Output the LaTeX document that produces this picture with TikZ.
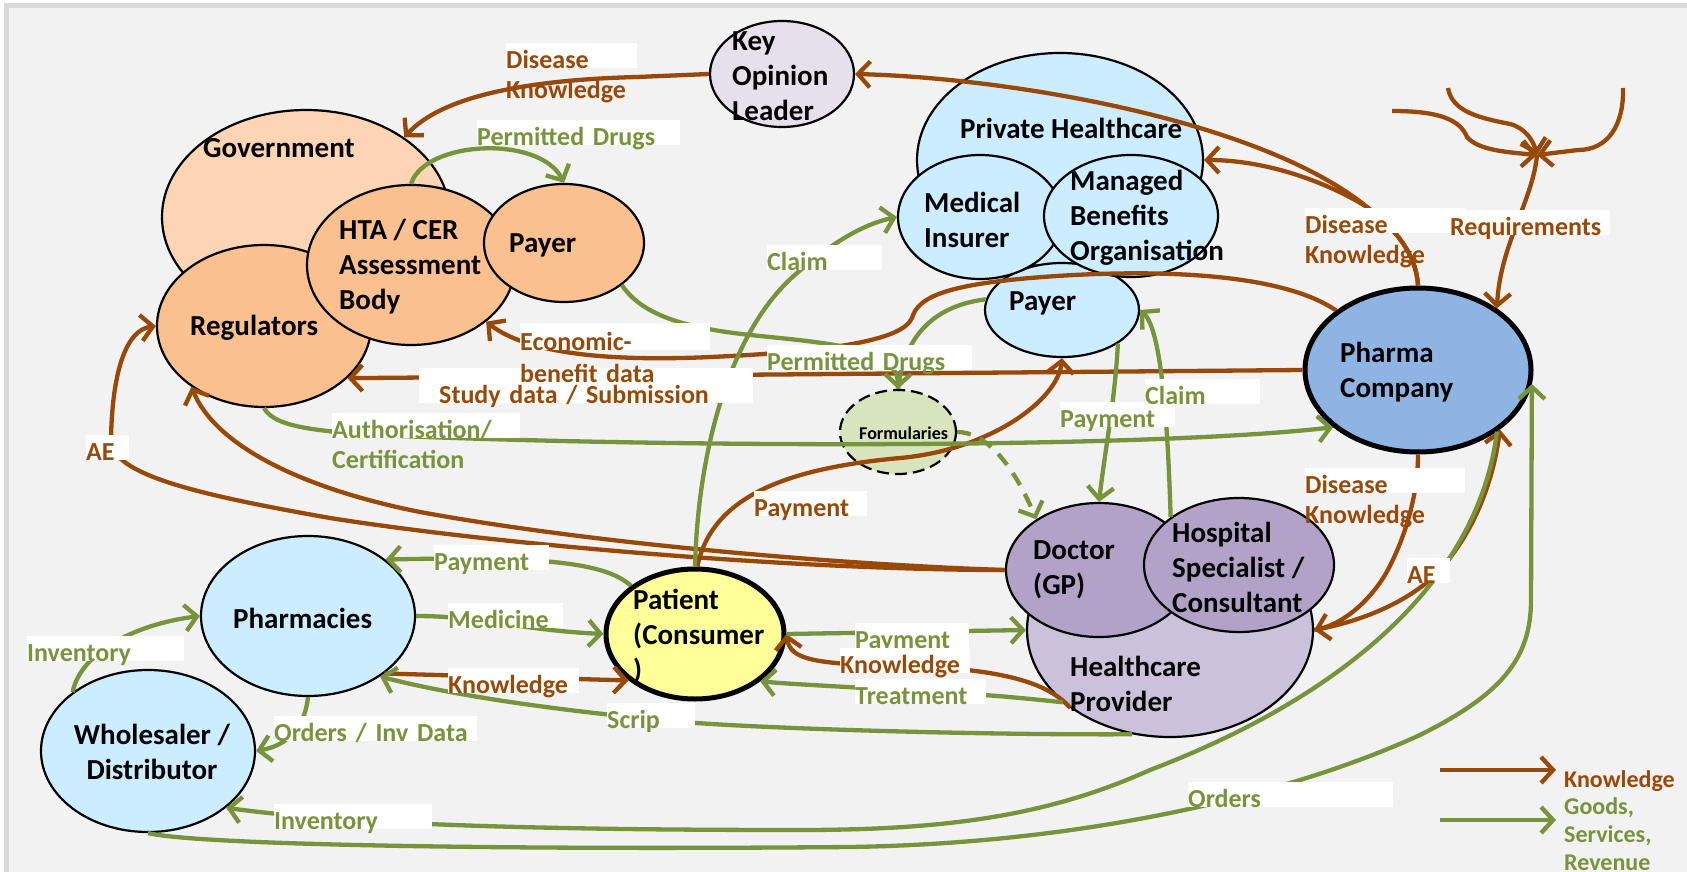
\documentclass[tikz,border=0pt]{standalone}
\usepackage{fontspec}
\setmainfont{Carlito}
\usepackage{tikz}
\usetikzlibrary{shapes,arrows.meta,positioning,calc}

\definecolor{know}{HTML}{984807}
\definecolor{goods}{HTML}{77933C}
\definecolor{paper}{HTML}{F2F2F2}
\definecolor{framegray}{HTML}{D9D9D9}
\definecolor{govfill}{HTML}{FCD5B5}
\definecolor{orgfill}{HTML}{FAC090}
\definecolor{kolfill}{HTML}{E6E0EC}
\definecolor{skyfill}{HTML}{CCECFF}
\definecolor{pharmafill}{HTML}{8EB4E3}
\definecolor{patfill}{HTML}{FFFF99}
\definecolor{formfill}{HTML}{D7E4BD}
\definecolor{docfill}{HTML}{B3A2C7}
\definecolor{hcfill}{HTML}{CCC1DA}

\begin{document}
\begin{tikzpicture}[x=1pt, y=-1pt, >={Straight Barb[length=12pt,width=26pt]}]
\tikzstyle{blob}=[ellipse, draw=black, line width=2.2pt, inner sep=0pt]
\tikzstyle{txt}=[font=\fontsize{29}{35}\selectfont\bfseries, align=left, anchor=west, inner sep=0pt]
\tikzstyle{kline}=[draw=know, line width=4.3pt]
\tikzstyle{gline}=[draw=goods, line width=4.3pt]
\tikzstyle{lbl}=[fill=white, anchor=north west, align=left, inner sep=0pt, text height=25pt, text depth=0pt, font=\fontsize{26}{30}\selectfont\bfseries]
\tikzstyle{klbl}=[lbl, text=know]
\tikzstyle{glbl}=[lbl, text=goods]
\tikzstyle{keytext}=[font=\fontsize{24}{28}\selectfont\bfseries, inner sep=0pt, align=left, text width=120pt]

\useasboundingbox (0,0) rectangle (1687,872);
\fill[white] (0,0) rectangle (1687,872);
\draw[draw=framegray, line width=5pt, fill=paper] (6,6) rectangle (1720,900);

% actors
\node[blob, fill=kolfill, minimum width=144pt, minimum height=106pt] (kol) at (782,74) {};
\node[blob, fill=govfill, minimum width=288pt, minimum height=214pt] (gov) at (306,217) {};
\node[blob, fill=orgfill, minimum width=214pt, minimum height=162pt] (reg) at (264,326) {};
\node[blob, fill=orgfill, minimum width=208pt, minimum height=160pt] (hta) at (411,265) {};
\node[blob, fill=orgfill, minimum width=160pt, minimum height=118pt] (gpay) at (564,243) {};
\node[blob, fill=skyfill, minimum width=286pt, minimum height=214pt] (phc) at (1060,160) {};
\node[blob, fill=skyfill, minimum width=154pt, minimum height=94pt] (ppay) at (1062,310) {};
\node[blob, fill=skyfill, minimum width=164pt, minimum height=124pt] (mins) at (980,217) {};
\node[blob, fill=skyfill, minimum width=174pt, minimum height=122pt] (mbo) at (1131,216) {};
\node[blob, fill=pharmafill, line width=5pt, minimum width=226pt, minimum height=164pt] (pharma) at (1418,370) {};
\node[blob, fill=formfill, dash pattern=on 12pt off 6pt, minimum width=116pt, minimum height=84pt] (form) at (898,432) {};
\node[blob, fill=hcfill, minimum width=286pt, minimum height=214pt] (hcp) at (1170,630) {};
\node[blob, fill=docfill, minimum width=186pt, minimum height=134pt] (doc) at (1099,570) {};
\node[blob, fill=docfill, minimum width=190pt, minimum height=134pt] (hosp) at (1239,565) {};
\node[blob, fill=skyfill, minimum width=214pt, minimum height=160pt] (pharm) at (308,616) {};
\node[blob, fill=skyfill, minimum width=214pt, minimum height=162pt] (whole) at (148,751) {};
\node[blob, fill=patfill, line width=5pt, minimum width=178pt, minimum height=130pt] (patient) at (695,634) {};

\node[txt] (kol-t) at (732,76) {Key\\Opinion\\Leader};
\node[txt] (gov-t) at (203,148) {Government};
\node[txt] (reg-t) at (190,328) {Regulators};
\node[txt] (hta-t) at (339,267) {HTA / CER\\Assessment\\Body};
\node[txt] (gpay-t) at (509,245) {Payer};
\node[txt] (phc-t) at (960,128) {Private Healthcare};
\node[txt] (mins-t) at (924,220) {Medical\\Insurer};
\node[txt] (mbo-t) at (1070,218) {Managed\\Benefits\\Organisation};
\node[txt] (ppay-t) at (1009,303) {Payer};
\node[txt] (pharma-t) at (1340,372) {Pharma\\Company};
\node[txt, font=\fontsize{18}{22}\selectfont\bfseries] (form-t) at (859,433) {Formularies};
\node[txt] (doc-t) at (1033,570) {Doctor\\(GP)};
\node[txt] (hosp-t) at (1172,567) {Hospital\\Specialist /\\Consultant};
\node[txt] (hcp-t) at (1070,684) {Healthcare\\Provider};
\node[txt] (pharm-t) at (233,618) {Pharmacies};
\node[txt, anchor=center, align=center] (whole-t) at (152,752) {Wholesaler /\\Distributor};
\node[txt] (patient-t) at (633,636) {Patient\\(Consumer\\)};

% knowledge
\coordinate (req-a) at (1392,111);
\coordinate (req-b) at (1448,88);
\coordinate (req-c) at (1623,88);
\coordinate (req-hub) at (1537,155);
\draw[kline,->] (kol.west) -- (637,77) .. controls (520,80) and (440,98) .. (gov.39);
\draw[kline,->] (pharma.north) .. controls (1416,250) and (1390,225) .. (1367,207) .. controls (1260,120) and (1010,78) .. (kol.east);
\draw[kline,->] (pharma.north) .. controls (1416,250) and (1390,225) .. (1367,207) .. controls (1320,178) and (1260,160) .. (phc.east);
\draw[kline,->] (req-a) .. controls (1440,111) and (1460,120) .. (1467,137) .. controls (1478,150) and (1505,152) .. (req-hub);
\draw[kline,->] (req-b) .. controls (1452,112) and (1480,118) .. (1510,124) .. controls (1525,128) and (1533,140) .. (req-hub);
\draw[kline,->] (req-c) .. controls (1624,125) and (1608,150) .. (1578,150) -- (req-hub);
\draw[kline,->] (req-hub) .. controls (1533,200) and (1500,245) .. (pharma.38);
\draw[kline,->] (pharma.144) .. controls (1280,272) and (1150,268) .. (1030,278) .. controls (950,285) and (918,296) .. (912,318) .. controls (902,342) and (820,352) .. (711,357) .. controls (600,362) and (525,352) .. (hta.-37);
\draw[kline,->] (pharma.west) -- (reg.-32);
\draw[kline,->] (patient.88) .. controls (712,495) and (790,468) .. (900,458) .. controls (990,450) and (1058,400) .. (ppay.south);
\draw[kline,->] (doc.west) .. controls (850,565) and (600,545) .. (420,512) .. controls (300,488) and (215,445) .. (reg.-140);
\draw[kline,->] (doc.west) .. controls (800,570) and (500,545) .. (330,518) .. controls (200,495) and (111,475) .. (111,440) .. controls (112,375) and (125,330) .. (reg.west);
\draw[kline,->] (pharm.-37) -- (patient.-145);
\draw[kline,->] (hcp.-142) .. controls (1045,678) and (985,668) .. (900,666) .. controls (815,664) and (790,660) .. (patient.east);
\draw[kline,->] (pharma.south) .. controls (1418,500) and (1402,545) .. (1385,575) .. controls (1368,603) and (1342,624) .. (hcp.east);
\draw[kline,->] (hcp.east) .. controls (1370,620) and (1410,598) .. (1432,578) .. controls (1468,543) and (1492,490) .. (pharma.-36);

% goods, services, revenue
\draw[gline,->] (hta.north) .. controls (425,140) and (540,135) .. (gpay.north);
\draw[gline,->] (patient.north) .. controls (698,450) and (730,330) .. (797,273) .. controls (830,245) and (860,225) .. (mins.west);
\draw[gline,->] (gpay.-36) .. controls (645,320) and (700,330) .. (760,336) .. controls (840,344) and (898,350) .. (form.north);
\draw[gline] (ppay.172) .. controls (940,305) and (905,330) .. (form.north);
\draw[gline,->] (reg.south) .. controls (275,428) and (320,432) .. (400,436) .. controls (700,448) and (1150,448) .. (pharma.-146);
\draw[gline,->,dash pattern=on 14pt off 10pt] (form.east) .. controls (985,432) and (1012,462) .. (doc.141);
\draw[gline,->] (ppay.-31) .. controls (1115,400) and (1105,450) .. (doc.north);
\draw[gline,->] (hosp.145) .. controls (1168,430) and (1162,330) .. (ppay.east);
\draw[gline,->] (patient.143) .. controls (605,562) and (540,556) .. (pharm.36);
\draw[gline,->] (pharm.east) .. controls (480,616) and (520,630) .. (patient.west);
\draw[gline,->] (hcp.-110) .. controls (1000,735) and (800,730) .. (696,723) .. controls (600,715) and (470,700) .. (pharm.-40);
\draw[gline,->] (pharm.south) .. controls (305,725) and (290,745) .. (whole.east);
\draw[gline,->] (whole.142) .. controls (80,655) and (130,625) .. (pharm.west);
\draw[gline,->] (pharma.-38) .. controls (1480,570) and (1360,690) .. (1150,770) .. controls (1050,815) and (950,830) .. (800,830) .. controls (550,830) and (350,825) .. (whole.-36);
\draw[gline,->] (whole.south) .. controls (200,845) and (500,850) .. (850,847) .. controls (1100,843) and (1300,790) .. (1420,735) .. controls (1500,695) and (1531,660) .. (1531,600) -- (pharma.-7);
\draw[gline,->] (patient.east) -- (hcp.west);
\draw[gline,->] (hcp.-146) .. controls (1040,700) and (990,694) .. (900,690) .. controls (830,686) and (790,684) .. (patient.-36);

% flow labels
\node[klbl, text width=131pt] (dk-kol) at (506,43) {Disease\\Knowledge};
\node[klbl, text width=334pt, text height=35pt] (study) at (419,368) {\hspace*{20pt}Study data / Submission};
\node[klbl, text width=190pt, text height=27pt, font=\fontsize{26}{32}\selectfont\bfseries] (econ) at (520,323) {Economic-\\benefit data};
\node[klbl, text width=43pt] (ae-reg) at (86,435) {AE};
\node[klbl, text width=113pt] (pay-k) at (754,491) {Payment};
\node[klbl, text width=160pt] (dk-top) at (1305,208) {Disease\\Knowledge};
\node[klbl, text width=160pt] (req) at (1450,210) {Requirements};
\node[klbl, text width=160pt] (dk-low) at (1305,468) {Disease\\Knowledge};
\node[klbl, text width=43pt] (ae-hcp) at (1407,558) {AE};
\node[klbl, text width=131pt] (know-ph) at (448,668) {Knowledge};

\node[glbl, text width=203pt] (pd-top) at (477,120) {Permitted Drugs};
\node[glbl, text width=115pt] (claim-pat) at (767,245) {Claim};
\node[glbl, text width=205pt] (pd-form) at (767,345) {Permitted Drugs};
\node[glbl, text width=188pt] (auth) at (332,413) {Authorisation/\\Certification};
\node[glbl, text width=115pt] (pay-doc) at (1060,402) {Payment};
\node[glbl, text width=115pt] (claim-hosp) at (1145,379) {Claim};
\node[glbl, text width=115pt] (pay-ph) at (434,545) {Payment};
\node[glbl, text width=115pt] (med) at (448,603) {Medicine};
\node[glbl, text width=157pt] (inv-ph) at (27,636) {Inventory};
\node[glbl, text width=203pt] (ord-inv) at (274,716) {Orders / Inv Data};
\node[glbl, text width=88pt] (scrip) at (607,703) {Scrip};
\node[glbl, text width=114pt] (pay-hcp) at (855,623) {Payment};
\node[klbl, text width=130pt] (know-hcp) at (840,648) {Knowledge};
\node[glbl, text width=131pt] (treat) at (855,679) {Treatment};
\node[glbl, text width=158pt] (inv-wh) at (274,804) {Inventory};
\node[glbl, text width=205pt] (orders) at (1188,782) {Orders};

% key
\coordinate (key-k0) at (1440,770);
\coordinate (key-k1) at (1556,770);
\coordinate (key-g0) at (1440,820);
\coordinate (key-g1) at (1556,820);
\draw[kline,->] (key-k0) -- (key-k1);
\draw[gline,->] (key-g0) -- (key-g1);
\node[keytext, text=know, anchor=base west] (key-kt) at (1564,787) {Knowledge};
\node[keytext, text=goods, anchor=base west] (key-gt) at (1564,814) {Goods,\\Services,\\Revenue};
\end{tikzpicture}
\end{document}
